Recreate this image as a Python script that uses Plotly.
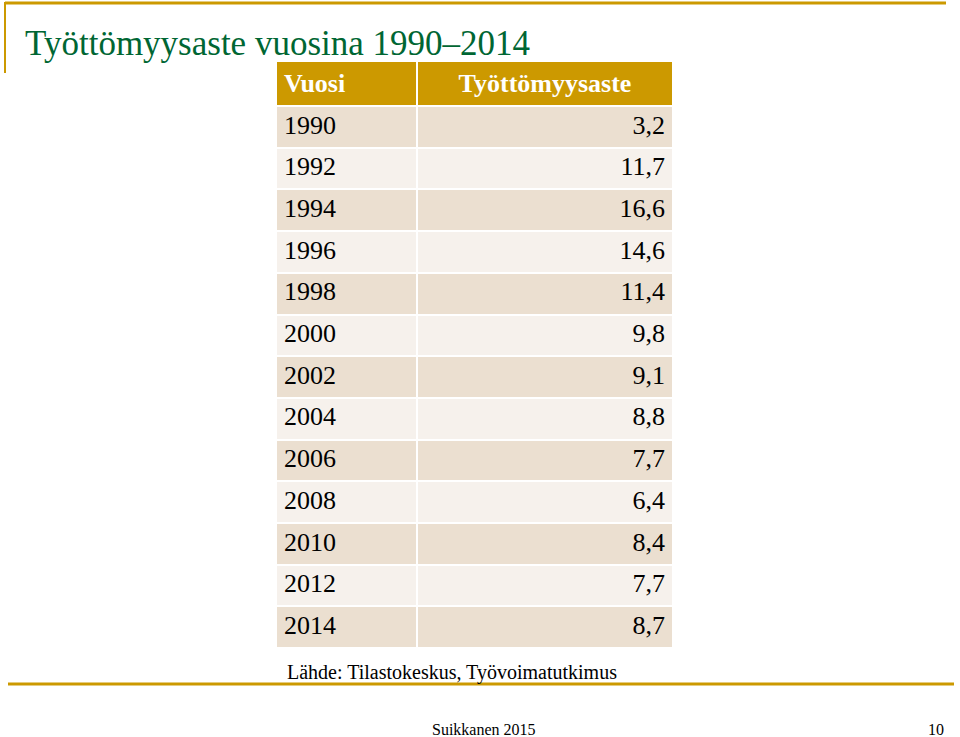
import plotly.graph_objects as go

# data
vuodet = [1990, 1992, 1994, 1996, 1998, 2000, 2002, 2004, 2006, 2008, 2010, 2012, 2014]
tyottomyysaste = [3.2, 11.7, 16.6, 14.6, 11.4, 9.8, 9.1, 8.8, 7.7, 6.4, 8.4, 7.7, 8.7]
otsikot = ["Vuosi", "Työttömyysaste"]

GOLD = "#cc9900"
DARK_ROW = "#ebdfd0"
LIGHT_ROW = "#f6f1ec"
SERIF = "Liberation Serif, Times New Roman, serif"

W, H = 960, 737

arvot = [f"{v:.1f}".replace(".", ",") for v in tyottomyysaste]
rivivarit = [DARK_ROW if i % 2 == 0 else LIGHT_ROW for i in range(len(vuodet))]

fig = go.Figure()

fig.add_trace(go.Table(
    domain=dict(x=[276 / W, 673 / W], y=[1 - 648 / H, 1 - 61 / H]),
    columnwidth=[141, 256],
    header=dict(
        values=[f"<b>{t}</b>" for t in otsikot],
        fill_color=GOLD,
        line=dict(color="white", width=2),
        align=["left", "center"],
        font=dict(family=SERIF, size=26, color="white"),
        height=41,
    ),
    cells=dict(
        values=[[str(v) for v in vuodet], arvot],
        fill_color=[rivivarit, rivivarit],
        line=dict(color="white", width=2),
        align=["left", "right"],
        font=dict(family=SERIF, size=26, color="black"),
        height=41.7,
    ),
))

# slide decorations: gold frame lines
fig.add_shape(type="line", xref="paper", yref="paper",
              x0=5 / W, x1=946 / W, y0=1 - 3 / H, y1=1 - 3 / H,
              line=dict(color=GOLD, width=3))
fig.add_shape(type="line", xref="paper", yref="paper",
              x0=5 / W, x1=5 / W, y0=1 - 2 / H, y1=1 - 73 / H,
              line=dict(color=GOLD, width=2))
fig.add_shape(type="line", xref="paper", yref="paper",
              x0=8 / W, x1=954 / W, y0=1 - 684 / H, y1=1 - 684 / H,
              line=dict(color=GOLD, width=3))

# title and footer texts
fig.add_annotation(text="Työttömyysaste vuosina 1990–2014", xref="paper", yref="paper",
                   x=23 / W, y=1 - 44 / H, xanchor="left", yanchor="middle", showarrow=False,
                   font=dict(family=SERIF, size=35, color="#006633"))
fig.add_annotation(text="Lähde: Tilastokeskus, Työvoimatutkimus", xref="paper", yref="paper",
                   x=285 / W, y=1 - 672 / H, xanchor="left", yanchor="middle", showarrow=False,
                   font=dict(family=SERIF, size=20, color="black"))
fig.add_annotation(text="Suikkanen 2015", xref="paper", yref="paper",
                   x=484 / W, y=1 - 729 / H, xanchor="center", yanchor="middle", showarrow=False,
                   font=dict(family=SERIF, size=16, color="black"))
fig.add_annotation(text="10", xref="paper", yref="paper",
                   x=936 / W, y=1 - 729 / H, xanchor="center", yanchor="middle", showarrow=False,
                   font=dict(family=SERIF, size=16, color="black"))

fig.update_layout(
    width=W, height=H,
    margin=dict(l=0, r=0, t=0, b=0),
    paper_bgcolor="white",
    plot_bgcolor="white",
    showlegend=False,
)

# the page's default body margin would shift the slide, so drop it
fig.write_html("out.html", config={"displayModeBar": False},
               post_script="document.body.style.margin='0';")
